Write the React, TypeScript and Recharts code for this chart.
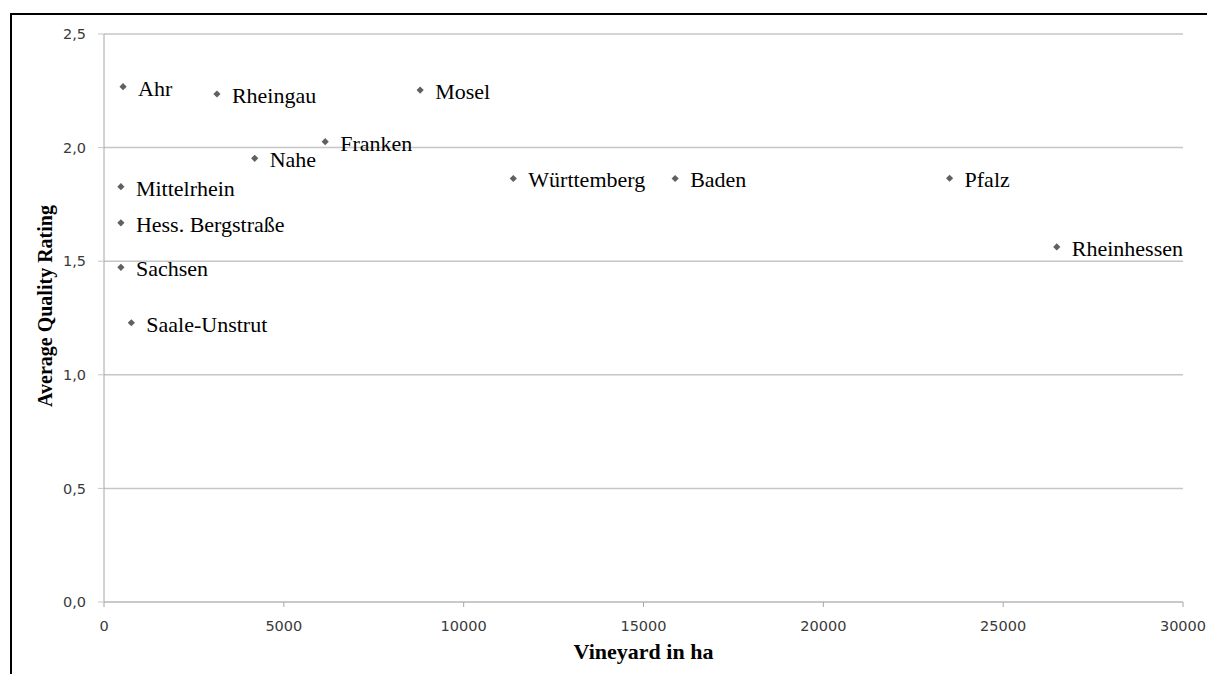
import { ScatterChart, Scatter, XAxis, YAxis, CartesianGrid, Label } from 'recharts'

// Anbaugebiete: Rebfläche (ha) gegen durchschnittliche Qualitätsbewertung
const regions = [
  'Ahr', 'Rheingau', 'Mosel', 'Franken', 'Nahe', 'Mittelrhein', 'Hess. Bergstraße',
  'Sachsen', 'Saale-Unstrut', 'Württemberg', 'Baden', 'Pfalz', 'Rheinhessen',
]
const vineyardHa = [530, 3140, 8790, 6150, 4190, 470, 470, 470, 760, 11380, 15880, 23510, 26490]
const qualityRating = [2.268, 2.236, 2.253, 2.026, 1.953, 1.828, 1.669, 1.473, 1.229, 1.864, 1.864, 1.865, 1.563]

const xTicks = [0, 5000, 10000, 15000, 20000, 25000, 30000]
const yTicks = [0, 0.5, 1, 1.5, 2, 2.5]

const data = regions.map((name, i) => ({ name, ha: vineyardHa[i], rating: qualityRating[i] }))

const tickStyle = { fill: '#3a3a3a', fontSize: 14.5, fontFamily: 'DejaVu Sans' }
const titleFont = 'Liberation Serif'

// diamond marker with the region name to its right
// eslint-disable-next-line @typescript-eslint/no-explicit-any
function PointWithName(props: any) {
  const { cx, cy, payload } = props
  const r = 3.6
  return (
    <g>
      <path d={`M${cx},${cy - r}L${cx + r},${cy}L${cx},${cy + r}L${cx - r},${cy}Z`} fill="#606060" />
      <text x={cx + 15} y={cy + 9} fontFamily={titleFont} fontSize={22} fill="#000">
        {payload.name}
      </text>
    </g>
  )
}

// eslint-disable-next-line @typescript-eslint/no-explicit-any
function YTitle(props: any) {
  const { viewBox } = props
  const x = viewBox.x + 37
  const y = viewBox.y + viewBox.height / 2 - 12
  return (
    <text
      x={x} y={y} transform={`rotate(-90 ${x} ${y})`} textAnchor="middle" dominantBaseline="central"
      fontFamily={titleFont} fontWeight="bold" fontSize={20} fill="#000"
    >
      Average Quality Rating
    </text>
  )
}

export default function App() {
  return (
    <div style={{ position: 'relative', width: 1207, height: 666 }}>
      <div
        style={{
          position: 'absolute', left: 2, top: 4.5, width: 1205, height: 661.5,
          borderTop: '2.5px solid #000', borderLeft: '2.5px solid #000', boxSizing: 'border-box',
        }}
      />
      <ScatterChart
        width={1207}
        height={666}
        margin={{ top: 26, right: 32, bottom: 0, left: 0 }}
        style={{ position: 'absolute', left: 0, top: 0 }}
      >
        <CartesianGrid horizontal vertical={false} stroke="#c6c6c6" strokeWidth={1.5} />
        <XAxis
          type="number"
          dataKey="ha"
          domain={[0, 30000]}
          ticks={xTicks}
          height={72}
          tick={tickStyle}
          tickSize={5}
          tickMargin={14}
          tickLine={{ stroke: '#a6a6a6' }}
          axisLine={{ stroke: '#c6c6c6', strokeWidth: 1.5 }}
        >
          <Label
            value="Vineyard in ha"
            position="insideBottom"
            offset={15}
            style={{ fontFamily: titleFont, fontWeight: 'bold', fontSize: 22, fill: '#000' }}
          />
        </XAxis>
        <YAxis
          type="number"
          dataKey="rating"
          domain={[0, 2.5]}
          ticks={yTicks}
          width={96}
          tick={tickStyle}
          tickSize={6}
          tickMargin={12}
          tickFormatter={(v: number) => v.toFixed(1).replace('.', ',')}
          tickLine={{ stroke: '#c6c6c6' }}
          axisLine={{ stroke: '#a6a6a6' }}
        >
          <Label content={<YTitle />} />
        </YAxis>
        <Scatter data={data} shape={<PointWithName />} isAnimationActive={false} />
      </ScatterChart>
    </div>
  )
}
